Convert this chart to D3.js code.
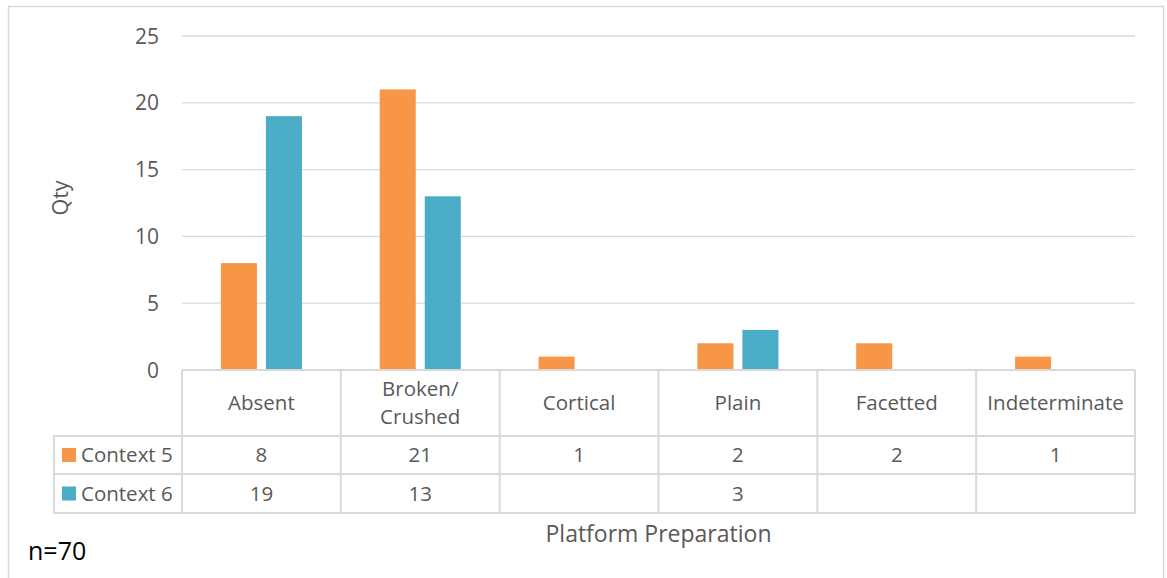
<!DOCTYPE html>
<html><head><meta charset="utf-8">
<script src="https://cdn.jsdelivr.net/npm/d3@7"></script>
<style>body{margin:0;background:#fff;} text{font-family:"Open Sans",sans-serif;}</style>
</head><body>
<svg id="c" width="1167" height="578"></svg>
<script>
const categories = ["Absent", "Broken/\nCrushed", "Cortical", "Plain", "Facetted", "Indeterminate"];
const seriesNames = ["Context 5", "Context 6"];
const context5 = [8, 21, 1, 2, 2, 1];
const context6 = [19, 13, null, 3, null, null];
const colors = ["#F79646", "#4BACC6"];
const yTicks = [0, 5, 10, 15, 20, 25];

const svg = d3.select("#c");
const L = 182, R = 1135, T = 36, B = 370;
const rowH = [66, 38, 39];
const legendLeft = 54;
const fs = "20.5px";
const txtC = "#595959";

// outer border
svg.append("rect").attr("x", 8.5).attr("y", 6.5).attr("width", 1155).attr("height", 600)
  .attr("fill", "none").attr("stroke", "#d9d9d9").attr("stroke-width", 1.5);

const x = d3.scaleBand().domain(d3.range(categories.length)).range([L, R]);
const y = d3.scaleLinear().domain([0, 25]).range([B, T]);
const xs = d3.scaleBand().domain([0, 1]).range([0, x.bandwidth()]).paddingInner(0.2).paddingOuter(0.864);

// gridlines
svg.append("g").selectAll("line").data(yTicks.filter(d => d > 0)).join("line")
  .attr("x1", L).attr("x2", R).attr("y1", d => y(d)).attr("y2", d => y(d))
  .attr("stroke", "#d9d9d9").attr("stroke-width", 1.3);

// y axis labels
const yAxis = d3.axisLeft(y).tickValues(yTicks).tickSize(0).tickPadding(23);
const ya = svg.append("g").attr("transform", `translate(${L},0)`).call(yAxis);
ya.select(".domain").remove();
ya.selectAll("text").attr("fill", txtC).attr("dy", "7").style("font-size", "21px").style("font-family", "Open Sans");

// bars
const series = [context5, context6];
series.forEach((vals, si) => {
  svg.append("g").selectAll("rect").data(vals.map((v, i) => ({v, i})).filter(d => d.v != null)).join("rect")
    .attr("x", d => x(d.i) + xs(si)).attr("width", xs.bandwidth())
    .attr("y", d => y(d.v)).attr("height", d => y(0) - y(d.v))
    .attr("fill", colors[si]);
});

// table
const tg = svg.append("g");
const lineC = "#d9d9d9", lw = 2;
const yRows = [B, B + rowH[0], B + rowH[0] + rowH[1], B + rowH[0] + rowH[1] + rowH[2]];
tg.append("line").attr("x1", L).attr("x2", R).attr("y1", yRows[0]).attr("y2", yRows[0]).attr("stroke", lineC).attr("stroke-width", lw);
[1, 2, 3].forEach(k => tg.append("line").attr("x1", legendLeft - 1).attr("x2", R + 1).attr("y1", yRows[k]).attr("y2", yRows[k]).attr("stroke", lineC).attr("stroke-width", lw));
d3.range(categories.length + 1).forEach(i => {
  const xx = i < categories.length ? x(i) : R;
  tg.append("line").attr("x1", xx).attr("x2", xx).attr("y1", yRows[0]).attr("y2", yRows[3]).attr("stroke", lineC).attr("stroke-width", lw);
});
tg.append("line").attr("x1", legendLeft).attr("x2", legendLeft).attr("y1", yRows[1]).attr("y2", yRows[3]).attr("stroke", lineC).attr("stroke-width", lw);

// category labels
categories.forEach((c, i) => {
  const lines = c.split("\n");
  const cx = x(i) + x.bandwidth() / 2;
  const cy = (yRows[0] + yRows[1]) / 2;
  const t = tg.append("text").attr("x", cx).attr("text-anchor", "middle").attr("fill", txtC).style("font-size", fs);
  lines.forEach((ln, k) => {
    t.append("tspan").attr("x", cx).attr("y", cy + 7 + (k - (lines.length - 1) / 2) * 28).text(ln);
  });
});

// data rows
series.forEach((vals, si) => {
  const mid = (yRows[si + 1] + yRows[si + 2]) / 2;
  vals.forEach((v, i) => {
    if (v == null) return;
    tg.append("text").attr("x", x(i) + x.bandwidth() / 2).attr("y", mid + 7).attr("text-anchor", "middle")
      .attr("fill", txtC).style("font-size", fs).text(v);
  });
  tg.append("rect").attr("x", 62).attr("y", mid - 7).attr("width", 14).attr("height", 14).attr("fill", colors[si]);
  tg.append("text").attr("x", 81).attr("y", mid + 7).attr("fill", txtC).style("font-size", fs).text(seriesNames[si]);
});

// axis titles
svg.append("text").attr("transform", "translate(68,198) rotate(-90)").attr("text-anchor", "middle")
  .attr("fill", txtC).style("font-size", "21.5px").text("Qty");
svg.append("text").attr("x", (L + R) / 2).attr("y", 542).attr("text-anchor", "middle")
  .attr("fill", txtC).style("font-size", "23px").text("Platform Preparation");
svg.append("text").attr("x", 28).attr("y", 560).attr("fill", "#000").style("font-size", "25px").text("n=70");
</script>
</body></html>
